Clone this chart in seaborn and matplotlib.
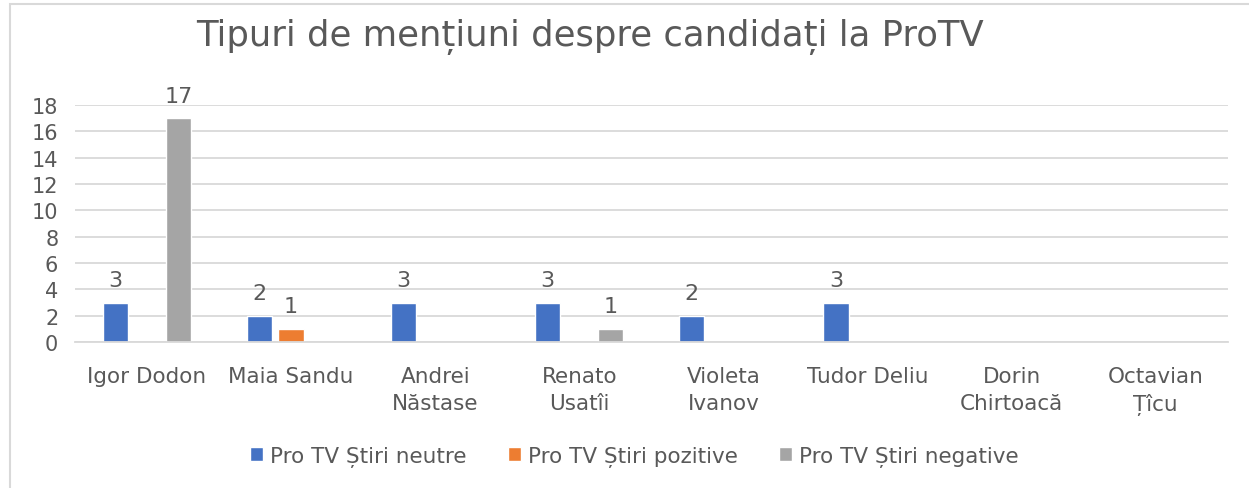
import numpy as np
import pandas as pd
import matplotlib
matplotlib.use('Agg')
import matplotlib.pyplot as plt
import seaborn as sns
from matplotlib.patches import Rectangle

# Chart data
candidates = ['Igor Dodon', 'Maia Sandu', 'Andrei\nNăstase', 'Renato\nUsatîi',
              'Violeta\nIvanov', 'Tudor Deliu', 'Dorin\nChirtoacă', 'Octavian\nȚîcu']
series = ['Pro TV Știri neutre', 'Pro TV Știri pozitive', 'Pro TV Știri negative']
neutre = [3, 2, 3, 3, 2, 3, np.nan, np.nan]
pozitive = [np.nan, 1, np.nan, np.nan, np.nan, np.nan, np.nan, np.nan]
negative = [17, np.nan, np.nan, 1, np.nan, np.nan, np.nan, np.nan]
colors = ['#4472C4', '#ED7D31', '#A5A5A5']

df = pd.DataFrame({
    'Candidat': candidates * 3,
    'Serie': [s for s in series for _ in candidates],
    'Valoare': neutre + pozitive + negative,
})

sns.set_style('white')
plt.rcParams['font.family'] = ['DejaVu Sans']
text_color = '#595959'

fig = plt.figure(figsize=(12.49, 4.89), dpi=100)
ax = fig.add_axes([0.060, 0.2986, 0.923, 0.4844])

sns.barplot(data=df, x='Candidat', y='Valoare', hue='Serie', hue_order=series,
            palette=colors, width=0.656, gap=0.2, ax=ax, legend=True,
            saturation=1, err_kws={'linewidth': 0})

# data labels
for cont in ax.containers:
    vals = cont.datavalues
    labels = ['' if np.isnan(v) or v == 0 else f'{int(v)}' for v in vals]
    ax.bar_label(cont, labels=labels, padding=9, fontsize=16, color=text_color)

ax.set_ylim(0, 18)
ax.set_yticks(range(0, 19, 2))
ax.yaxis.grid(True, color='#D9D9D9', linewidth=1.3)
ax.set_axisbelow(True)
for s in ['top', 'right', 'left']:
    ax.spines[s].set_visible(False)
ax.spines['bottom'].set_color('#D9D9D9')
ax.spines['bottom'].set_linewidth(1.3)
ax.tick_params(axis='y', length=0, labelsize=15, colors=text_color, pad=12)
ax.tick_params(axis='x', length=0, labelsize=15.5, colors=text_color, pad=17)
ax.set_xlabel('')
ax.set_ylabel('')
for lbl in ax.get_xticklabels():
    lbl.set_linespacing(1.45)

fig.text(0.472, 0.925, 'Tipuri de mențiuni despre candidați la ProTV',
         ha='center', va='center', fontsize=25.5, color=text_color)

handles, labels = ax.get_legend_handles_labels()
ax.legend_.remove()
fig.legend(handles, labels, loc='center', bbox_to_anchor=(0.508, 0.065), ncol=3,
           frameon=False, fontsize=15.5, labelcolor=text_color,
           handlelength=0.6, handleheight=0.6, handletextpad=0.35, columnspacing=1.9)

# chart area border
fig.patches.append(Rectangle((10 / 1249, -0.2), 1.2, 1.19, transform=fig.transFigure,
                             fill=False, edgecolor='#D9D9D9', linewidth=1.5))

fig.savefig('out.png', dpi=100)
